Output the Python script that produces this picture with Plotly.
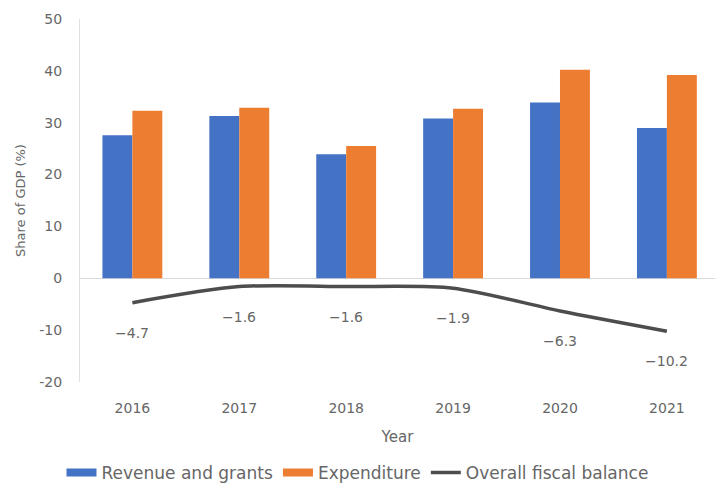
import plotly.graph_objects as go

years = ["2016", "2017", "2018", "2019", "2020", "2021"]
revenue = [27.6, 31.3, 23.9, 30.8, 33.9, 29.0]
expenditure = [32.3, 32.9, 25.5, 32.7, 40.2, 39.2]
balance = [-4.7, -1.6, -1.6, -1.9, -6.3, -10.2]
y_ticks = [50, 40, 30, 20, 10, 0, -10, -20]
y_tick_text = ["50", "40", "30", "20", "10", "0", "-10", "-20"]

blue = "#4472C4"
orange = "#ED7D31"
line_grey = "#4d4d4d"
grey = "#666666"
font_family = "'DejaVu Sans', 'Open Sans', sans-serif"

fig = go.Figure()
fig.add_trace(go.Bar(x=years, y=revenue, name="Revenue and grants",
                     legendgroup="rev", showlegend=False,
                     marker=dict(color=blue, line=dict(width=0))))
fig.add_trace(go.Bar(x=years, y=expenditure, name="Expenditure",
                     legendgroup="exp", showlegend=False,
                     marker=dict(color=orange, line=dict(width=0))))
fig.add_trace(go.Scatter(x=years, y=balance, name="Overall fiscal balance",
                         mode="lines", showlegend=False, legendgroup="bal",
                         line=dict(color=line_grey, width=3.5, shape="spline", smoothing=0.8)))

# legend keys: wide flat swatches for the bars, a thin stroke for the line
for name, color, width, group in [("Revenue and grants", blue, 8, "rev"),
                                  ("Expenditure", orange, 8, "exp"),
                                  ("Overall fiscal balance", line_grey, 3.5, "bal")]:
    fig.add_trace(go.Scatter(x=[None], y=[None], mode="lines", name=name,
                             legendgroup=group, line=dict(color=color, width=width)))

# value labels under the balance line (x given as category position)
for i, v in enumerate(balance):
    fig.add_annotation(x=i, y=v, text=f"\u2212{abs(v):.1f}", showarrow=False,
                       yshift=-30, font=dict(size=14, color=grey, family=font_family))

fig.update_layout(
    width=715, height=487,
    margin=dict(l=80, r=0, t=19, b=105),
    paper_bgcolor="white", plot_bgcolor="white",
    barmode="group", bargap=0.44, bargroupgap=0,
    font=dict(family=font_family, color=grey, size=13),
    showlegend=True,
    legend=dict(orientation="h", xref="container", yref="container",
                x=0.5, xanchor="center", y=0.029, yanchor="middle",
                font=dict(size=17, color=grey), itemwidth=30,
                traceorder="normal"),
    xaxis=dict(type="category", range=[-0.49, 5.45], autorange=False,
               showline=False, showgrid=False, ticks="",
               ticklabelstandoff=16, tickfont=dict(size=14, color=grey),
               title=dict(text="Year", font=dict(size=15, color=grey), standoff=16)),
    yaxis=dict(range=[-20, 50], tickvals=y_ticks, ticktext=y_tick_text,
               showgrid=False, zeroline=True, zerolinecolor="#d9d9d9", zerolinewidth=1,
               showline=True, linecolor="#e0e0e0", linewidth=1, ticks="",
               ticklabelstandoff=14, tickfont=dict(size=14, color=grey),
               title=dict(text="Share of GDP (%)", font=dict(size=13, color=grey), standoff=10)),
)

fig.write_html("out.html")
